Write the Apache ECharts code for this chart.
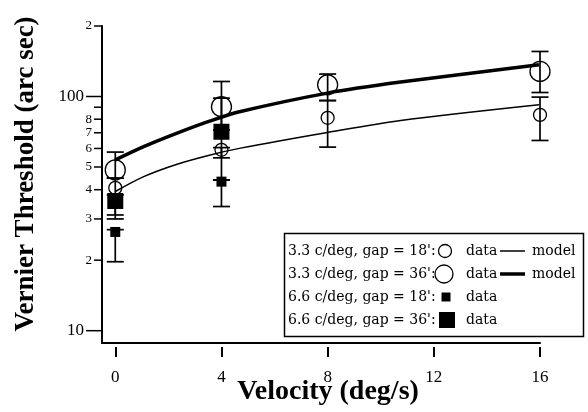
<!DOCTYPE html>
<html>
<head>
<meta charset="utf-8">
<script src="https://cdn.jsdelivr.net/npm/echarts@6/dist/echarts.min.js"></script>
<style>
    html, body {margin: 0; padding: 0; background: #fff;}
    #chart {width: 588px; height: 412px;}
</style>
</head>
<body>
<div id="chart"></div>
<script>
// velocities (deg/s) where thresholds were measured
var velocity = [0, 4, 8, 16];
var velocityNear = [0, 4];

// 3.3 c/deg, gap = 18' (small open circle)
var c18Data = [40.7, 59.2, 81.1, 83.5];
var c18Lo = [31.2, 54.7, 60.8, 64.9];
var c18Hi = [44.8, 60.5, 96.1, 99.4];

// 3.3 c/deg, gap = 36' (large open circle)
var c36Data = [48.6, 90.4, 112.2, 127.9];
var c36Lo = [44.8, 72, 96.1, 104.0];
var c36Hi = [57.9, 115.9, 124.7, 155.7];

// 6.6 c/deg, gap = 18' (small filled square)
var s18Data = [26.4, 43.3];
var s18Lo = [19.7, 33.9];
var s18Hi = [27, 44];

// 6.6 c/deg, gap = 36' (large filled square)
var s36Data = [35.8, 70.7];
var s36Lo = [30.0, 44];
var s36Hi = [38, 98.4];

// model curves
var modelX = [0, 1.07, 2.33, 3.58, 4.72, 7.99, 10.75, 15.96];
var model18 = [39.3, 45.5, 51.4, 56.3, 60.2, 70.2, 79.0, 92.2];
var model36 = [53.6, 61.1, 69.8, 78.7, 86.3, 103.4, 115.2, 136.6];

// axes
var xTicks = [0, 4, 8, 12, 16];
var yTickValues = [10, 20, 30, 40, 50, 60, 70, 80, 90, 100, 200];
var yTickLabels = ['10', '2', '3', '4', '5', '6', '7', '8', '', '100', '2'];
var yMajorTicks = [10, 100];

var legendLabels = ["3.3 c/deg, gap = 18':", "3.3 c/deg, gap = 36':", "6.6 c/deg, gap = 18':", "6.6 c/deg, gap = 36':"];

var X_MIN = -0.5, X_MAX = 16, Y_MIN = 8.86, Y_MAX = 200;
var SERIF = '"Liberation Serif", "Times New Roman", serif';
var LEG_FONT = '14px "DejaVu Serif", serif';

function zip(xs, ys) {
    return ys.map(function (y, i) { return [xs[i], y]; });
}

function zipErr(xs, lo, hi) {
    return lo.map(function (l, i) { return [xs[i], l, hi[i]]; });
}

function renderErr(params, api) {
    let x = api.value(0);
    let pLo = api.coord([x, api.value(1)]);
    let pHi = api.coord([x, api.value(2)]);
    let w = 8.5;
    let st = {stroke: '#000', lineWidth: 1.7};
    return {
        type: 'group',
        children: [
            {type: 'line', shape: {x1: pLo[0], y1: pLo[1], x2: pHi[0], y2: pHi[1]}, style: st},
            {type: 'line', shape: {x1: pLo[0] - w, y1: pLo[1], x2: pLo[0] + w, y2: pLo[1]}, style: st},
            {type: 'line', shape: {x1: pHi[0] - w, y1: pHi[1], x2: pHi[0] + w, y2: pHi[1]}, style: st}
        ]
    };
}

function renderYTick(params, api) {
    let v = api.value(1);
    let p = api.coord([X_MIN, v]);
    let major = yMajorTicks.indexOf(v) >= 0;
    let len = major ? 16 : 8;
    let label = yTickLabels[params.dataIndex];
    return {
        type: 'group',
        children: [
            {type: 'line', shape: {x1: p[0] - len, y1: p[1], x2: p[0], y2: p[1]},
                style: {stroke: '#000', lineWidth: 1.5}},
            {type: 'text', x: p[0] - len - 2, y: p[1],
                style: {text: label, font: (major ? '17px ' : '13px ') + SERIF, fill: '#000',
                    align: 'right', verticalAlign: 'middle', textAlign: 'right', textVerticalAlign: 'middle'}}
        ]
    };
}

function errSeries(data) {
    return {
        type: 'custom', renderItem: renderErr, data: data, z: 3, silent: true,
        encode: {x: 0, y: [1, 2]}
    };
}

let chart = echarts.init(document.getElementById('chart'));

// legend drawn as a boxed table, like the figure
let rowY = [251, 274, 297, 320];
let legendParts = [
    {type: 'rect', shape: {x: 284.5, y: 233.5, width: 299, height: 103},
        style: {fill: '#fff', stroke: '#000', lineWidth: 1.5}}
];
rowY.forEach(function (y, i) {
    legendParts.push({type: 'text', x: 288, y: y,
        style: {text: legendLabels[i], font: LEG_FONT, fill: '#000', textVerticalAlign: 'middle', verticalAlign: 'middle'}});
    legendParts.push({type: 'text', x: 466, y: y,
        style: {text: 'data', font: LEG_FONT, fill: '#000', textVerticalAlign: 'middle', verticalAlign: 'middle'}});
});
legendParts.push(
    {type: 'circle', shape: {cx: 445, cy: rowY[0], r: 6.5}, style: {fill: 'none', stroke: '#000', lineWidth: 1.3}},
    {type: 'circle', shape: {cx: 444, cy: rowY[1], r: 9}, style: {fill: 'none', stroke: '#000', lineWidth: 1.3}},
    {type: 'rect', shape: {x: 441.5, y: rowY[2] - 4.5, width: 9, height: 9}, style: {fill: '#000'}},
    {type: 'rect', shape: {x: 439, y: rowY[3] - 8, width: 16, height: 16}, style: {fill: '#000'}},
    {type: 'line', shape: {x1: 500, y1: rowY[0], x2: 525, y2: rowY[0]}, style: {stroke: '#000', lineWidth: 1.5}},
    {type: 'line', shape: {x1: 500, y1: rowY[1], x2: 525, y2: rowY[1]}, style: {stroke: '#000', lineWidth: 3.5}},
    {type: 'text', x: 532, y: rowY[0], style: {text: 'model', font: LEG_FONT, fill: '#000', textVerticalAlign: 'middle', verticalAlign: 'middle'}},
    {type: 'text', x: 532, y: rowY[1], style: {text: 'model', font: LEG_FONT, fill: '#000', textVerticalAlign: 'middle', verticalAlign: 'middle'}}
);

let option = {
    animation: false,
    backgroundColor: '#fff',
    grid: {left: 102, right: 48, top: 26, bottom: 69},
    xAxis: [
        {
            type: 'value', min: X_MIN, max: X_MAX, position: 'bottom',
            axisLine: {show: true, onZero: false, lineStyle: {color: '#000', width: 2}},
            axisTick: {show: false}, axisLabel: {show: false}, splitLine: {show: false}
        },
        {
            type: 'value', min: X_MIN, max: X_MAX, position: 'bottom', offset: 4,
            axisLine: {show: false, onZero: false},
            axisTick: {show: true, length: 10, customValues: xTicks, lineStyle: {color: '#000', width: 2}},
            axisLabel: {show: true, customValues: xTicks, margin: 22, color: '#000', fontSize: 17, fontFamily: SERIF},
            splitLine: {show: false}
        }
    ],
    yAxis: {
        type: 'log', logBase: 10, min: Y_MIN, max: Y_MAX,
        axisLine: {show: true, onZero: false, lineStyle: {color: '#000', width: 2}},
        axisTick: {show: false}, axisLabel: {show: false}, splitLine: {show: false}, minorTick: {show: false}
    },
    graphic: [
        {type: 'text', x: 26, y: 174, rotation: Math.PI / 2,
            style: {text: 'Vernier Threshold (arc sec)', font: 'bold 27px ' + SERIF, fill: '#000',
                textAlign: 'center', textVerticalAlign: 'middle', align: 'center', verticalAlign: 'middle'}},
        {type: 'text', x: 328, y: 392,
            style: {text: 'Velocity (deg/s)', font: 'bold 28px ' + SERIF, fill: '#000',
                textAlign: 'center', textVerticalAlign: 'middle', align: 'center', verticalAlign: 'middle'}},
        {type: 'group', children: legendParts, z: 100}
    ],
    series: [
        {
            type: 'custom', renderItem: renderYTick, silent: true, clip: false,
            data: yTickValues.map(function (v) { return [X_MIN, v]; })
        },
        {
            name: 'model 18', type: 'line', data: zip(modelX, model18), smooth: 0.3,
            showSymbol: false, z: 4, lineStyle: {color: '#000', width: 1.5}
        },
        {
            name: 'model 36', type: 'line', data: zip(modelX, model36), smooth: 0.3,
            showSymbol: false, z: 4, lineStyle: {color: '#000', width: 3.5}
        },
        errSeries(zipErr(velocity, c18Lo, c18Hi)),
        errSeries(zipErr(velocity, c36Lo, c36Hi)),
        errSeries(zipErr(velocityNear, s18Lo, s18Hi)),
        errSeries(zipErr(velocityNear, s36Lo, s36Hi)),
        {
            name: "3.3 c/deg, gap = 18'", type: 'scatter', data: zip(velocity, c18Data), z: 5,
            symbol: 'circle', symbolSize: 13,
            itemStyle: {color: 'rgba(0,0,0,0)', borderColor: '#000', borderWidth: 1.3, opacity: 1}
        },
        {
            name: "3.3 c/deg, gap = 36'", type: 'scatter', data: zip(velocity, c36Data), z: 5,
            symbol: 'circle', symbolSize: 20,
            itemStyle: {color: 'rgba(0,0,0,0)', borderColor: '#000', borderWidth: 1.3, opacity: 1}
        },
        {
            name: "6.6 c/deg, gap = 18'", type: 'scatter', data: zip(velocityNear, s18Data), z: 5,
            symbol: 'rect', symbolSize: 10, itemStyle: {color: '#000', opacity: 1}
        },
        {
            name: "6.6 c/deg, gap = 36'", type: 'scatter', data: zip(velocityNear, s36Data), z: 5,
            symbol: 'rect', symbolSize: 16, itemStyle: {color: '#000', opacity: 1}
        }
    ]
};

chart.setOption(option);
</script>
</body>
</html>
